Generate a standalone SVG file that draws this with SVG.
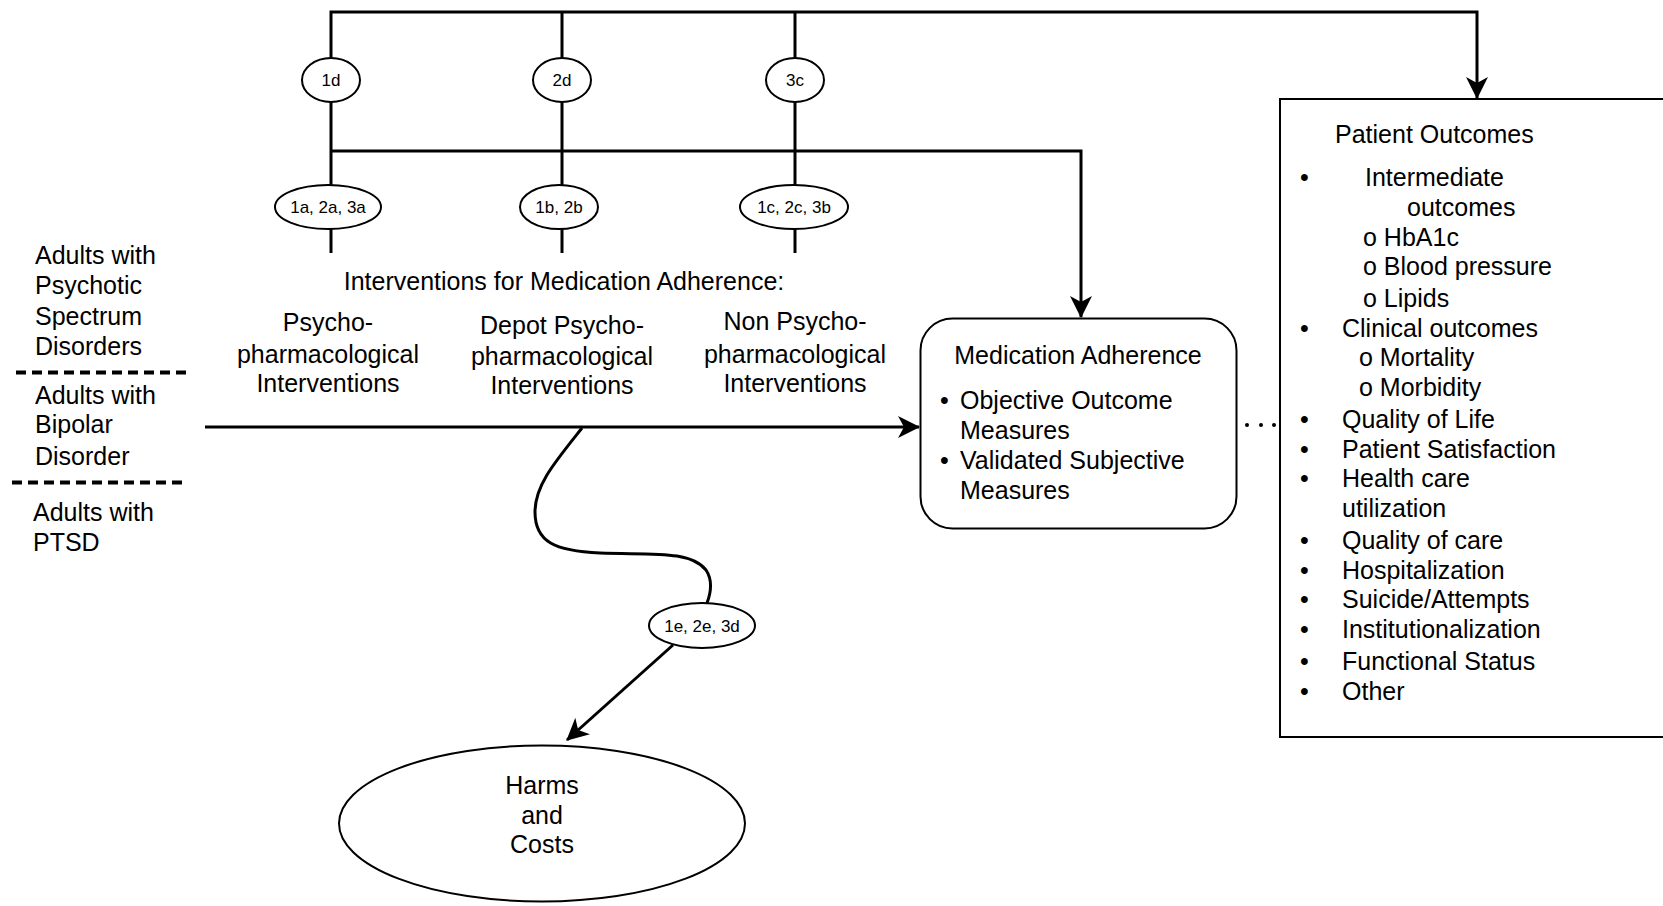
<svg xmlns="http://www.w3.org/2000/svg" width="1663" height="906" viewBox="0 0 1663 906">
<style>
text{font-family:"Liberation Sans",Arial,sans-serif;font-size:25px;fill:#000}
.sm{font-size:17px}
.mid{text-anchor:middle}
.ln{fill:none;stroke:#000;stroke-width:3}
.sh{fill:#fff;stroke:#000;stroke-width:2}
.dash{stroke:#000;stroke-width:4;stroke-dasharray:10 6}
</style>
<defs>
<marker id="ah" markerUnits="userSpaceOnUse" markerWidth="22" markerHeight="22" viewBox="0 0 22 22" refX="21" refY="11" orient="auto">
<path d="M0,0 L22,11 L0,22 L6,11 z" fill="#000"/>
</marker>
</defs>
<g id="connectors">
<path class="ln" d="M331,253 V12 H1477 V98" marker-end="url(#ah)"/>
<path class="ln" d="M562,253 V12"/>
<path class="ln" d="M795,253 V12"/>
<path class="ln" d="M331,151 H1081 V317" marker-end="url(#ah)"/>
<path class="ln" d="M205,427 H919" marker-end="url(#ah)"/>
<path class="ln" d="M582,428 C555,462 535,485 535,512 C535,542 555,551 600,553 C650,555 690,550 706,570 C714,582 710,595 707,603"/>
<path class="ln" d="M673,645 L567,740" marker-end="url(#ah)"/>
<g fill="#000"><circle cx="1247" cy="425" r="2"/><circle cx="1261" cy="425" r="2"/><circle cx="1274" cy="425" r="2"/></g>
</g>
<g id="populations">
<text x="35" y="264">Adults with</text>
<text x="35" y="294">Psychotic</text>
<text x="35" y="325">Spectrum</text>
<text x="35" y="355">Disorders</text>
<line class="dash" x1="16" y1="372.5" x2="192" y2="372.5"/>
<text x="35" y="404">Adults with</text>
<text x="35" y="433">Bipolar</text>
<text x="35" y="465">Disorder</text>
<line class="dash" x1="12" y1="482.5" x2="184" y2="482.5"/>
<text x="33" y="521">Adults with</text>
<text x="33" y="551">PTSD</text>
</g>
<g id="kq-1d"><ellipse class="sh" cx="331" cy="80" rx="29" ry="22"/><text class="sm mid" x="331" y="86">1d</text></g>
<g id="kq-2d"><ellipse class="sh" cx="562" cy="80" rx="29" ry="22"/><text class="sm mid" x="562" y="86">2d</text></g>
<g id="kq-3c"><ellipse class="sh" cx="795" cy="80" rx="29" ry="22"/><text class="sm mid" x="795" y="86">3c</text></g>
<g id="kq-1a"><ellipse class="sh" cx="328" cy="207" rx="53" ry="22"/><text class="sm mid" x="328" y="213">1a, 2a, 3a</text></g>
<g id="kq-1b"><ellipse class="sh" cx="559" cy="207" rx="39" ry="22"/><text class="sm mid" x="559" y="213">1b, 2b</text></g>
<g id="kq-1c"><ellipse class="sh" cx="794" cy="207" rx="54" ry="22"/><text class="sm mid" x="794" y="213">1c, 2c, 3b</text></g>
<g id="interventions">
<text class="mid" x="564" y="290">Interventions for Medication Adherence:</text>
<text class="mid" x="328" y="331">Psycho-</text>
<text class="mid" x="328" y="363">pharmacological</text>
<text class="mid" x="328" y="392">Interventions</text>
<text class="mid" x="562" y="334">Depot Psycho-</text>
<text class="mid" x="562" y="365">pharmacological</text>
<text class="mid" x="562" y="394">Interventions</text>
<text class="mid" x="795" y="330">Non Psycho-</text>
<text class="mid" x="795" y="363">pharmacological</text>
<text class="mid" x="795" y="392">Interventions</text>
</g>
<g id="adherence">
<rect class="sh" x="920.5" y="318.5" width="316" height="210" rx="32"/>
<text class="mid" x="1078" y="364">Medication Adherence</text>
<text x="940" y="409">•</text><text x="960" y="409">Objective Outcome</text>
<text x="960" y="439">Measures</text>
<text x="940" y="469">•</text><text x="960" y="469">Validated Subjective</text>
<text x="960" y="499">Measures</text>
</g>
<g id="outcomes">
<rect class="sh" x="1280" y="99" width="420" height="638"/>
<text x="1335" y="143">Patient Outcomes</text>
<g>
<text x="1300" y="186">•</text><text x="1365" y="186">Intermediate</text>
<text x="1407" y="216">outcomes</text>
<text x="1363" y="246">o HbA1c</text>
<text x="1363" y="275">o Blood pressure</text>
<text x="1363" y="307">o Lipids</text>
<text x="1300" y="337">•</text><text x="1342" y="337">Clinical outcomes</text>
<text x="1359" y="366">o Mortality</text>
<text x="1359" y="396">o Morbidity</text>
<text x="1300" y="428">•</text><text x="1342" y="428">Quality of Life</text>
<text x="1300" y="458">•</text><text x="1342" y="458">Patient Satisfaction</text>
<text x="1300" y="487">•</text><text x="1342" y="487">Health care</text>
<text x="1342" y="517">utilization</text>
<text x="1300" y="549">•</text><text x="1342" y="549">Quality of care</text>
<text x="1300" y="579">•</text><text x="1342" y="579">Hospitalization</text>
<text x="1300" y="608">•</text><text x="1342" y="608">Suicide/Attempts</text>
<text x="1300" y="638">•</text><text x="1342" y="638">Institutionalization</text>
<text x="1300" y="670">•</text><text x="1342" y="670">Functional Status</text>
<text x="1300" y="700">•</text><text x="1342" y="700">Other</text>
</g>
</g>
<g id="kq-1e"><ellipse class="sh" cx="702" cy="625.5" rx="53" ry="22.5"/><text class="sm mid" x="702" y="632">1e, 2e, 3d</text></g>
<g id="harms">
<ellipse class="sh" cx="542" cy="823.5" rx="203" ry="78"/>
<text class="mid" x="542" y="794">Harms</text>
<text class="mid" x="542" y="824">and</text>
<text class="mid" x="542" y="853">Costs</text>
</g>
</svg>
